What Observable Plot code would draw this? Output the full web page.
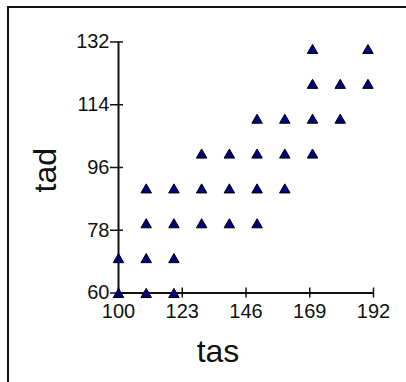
<!DOCTYPE html>
<html><head><meta charset="utf-8">
<script src="https://cdn.jsdelivr.net/npm/d3@7"></script>
<script src="https://cdn.jsdelivr.net/npm/@observablehq/plot@0.6"></script>
<style>
body{margin:0;background:#fff;}
#wrap{position:relative;width:406px;height:382px;overflow:hidden;background:#fff;}
#border{position:absolute;left:7px;top:6px;width:600px;height:600px;border-left:2px solid #111;border-top:2px solid #111;pointer-events:none;}
</style></head><body>
<div id="wrap"><div id="border"></div></div>
<script>
const tas = [100,100,110,110,110,110,120,120,120,120,130,130,130,140,140,140,150,150,150,150,160,160,160,170,170,170,170,180,180,190,190];
const tad = [60,70,60,70,80,90,60,70,80,90,80,90,100,80,90,100,80,90,100,110,90,100,110,100,110,120,130,110,120,120,130];
const xTicks = [100,123,146,169,192];
const yTicks = [60,78,96,114,132];
const xLabel = "tas";
const yLabel = "tad";

const points = tas.map((x, i) => ({tas: x, tad: tad[i]}));

const plot = Plot.plot({
  width: 406, height: 382,
  marginLeft: 118, marginRight: 33, marginTop: 41.5, marginBottom: 89.5,
  style: {fontFamily: "'Liberation Sans', Arial, sans-serif", fontSize: "20px", color: "#111", background: "transparent"},
  x: {domain: [xTicks[0], xTicks[xTicks.length - 1]]},
  y: {domain: [yTicks[0], yTicks[yTicks.length - 1]]},
  marks: [
    Plot.ruleX([xTicks[0]], {stroke: "#111", strokeWidth: 2}),
    Plot.ruleY([yTicks[0]], {stroke: "#111", strokeWidth: 2}),
    Plot.axisX({ticks: xTicks, tickSize: 10, dy: -5, fill: "none", stroke: "#111", strokeWidth: 1.5, label: null}),
    Plot.axisX({ticks: xTicks, tickSize: 0, tickPadding: 10.5, fill: "#111", label: null, fontSize: 20}),
    Plot.axisY({ticks: yTicks, tickSize: 13, dx: 5, fill: "none", stroke: "#111", strokeWidth: 1.5, label: null}),
    Plot.axisY({ticks: yTicks, tickSize: 0, tickPadding: 9, fill: "#111", label: null, fontSize: 20}),
    Plot.dot(points, {x: "tas", y: "tad", symbol: "triangle", r: 3.9, fill: "#000080", stroke: "#000", strokeWidth: 1, dy: 1.5}),
    Plot.text([yLabel], {text: d => d, frameAnchor: "left", rotate: -90, dx: -73, dy: 25, fontSize: 32, fill: "#111"}),
    Plot.text([xLabel], {text: d => d, frameAnchor: "bottom", lineAnchor: "bottom", dx: -28, dy: 69, fontSize: 32, fill: "#111"})
  ]
});
document.getElementById("wrap").insertBefore(plot, document.getElementById("border"));
</script>
</body></html>
